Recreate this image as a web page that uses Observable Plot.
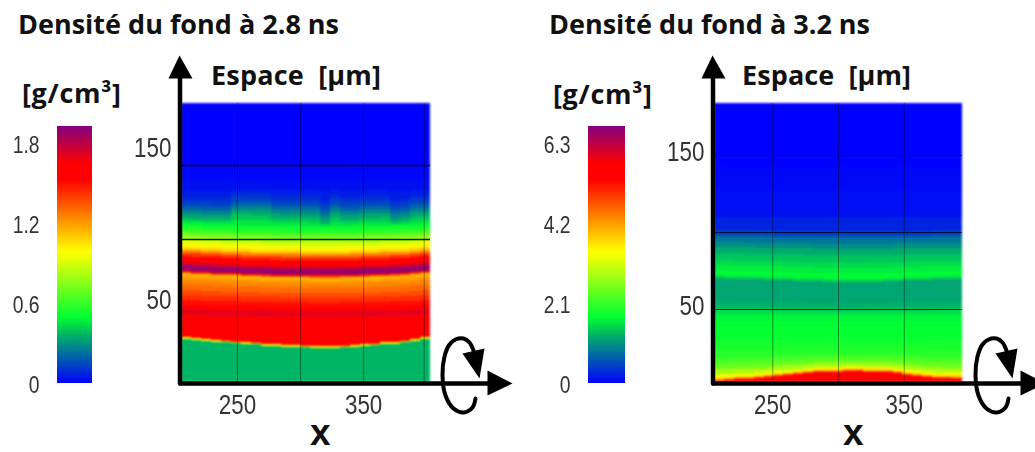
<!DOCTYPE html>
<html><head><meta charset="utf-8">
<script src="https://cdn.jsdelivr.net/npm/d3@7"></script>
<script src="https://cdn.jsdelivr.net/npm/@observablehq/plot@0.6"></script>
<style>
html,body{margin:0;padding:0;background:#fff;width:1035px;height:452px;overflow:hidden}
#page{position:relative;width:1035px;height:452px}
#page>div.t{position:absolute;font-family:"Open Sans",Lato,sans-serif;font-weight:700;color:#111;white-space:pre;line-height:1}
#page svg{position:absolute;top:0;filter:blur(.4px);background:transparent}
</style></head><body><div id="page"></div>
<script>
// colour map, as a fraction of the colour bar's top value
const stopFractions=[0,.18,.26,.51,.79,.85,1];
const stopColors=["#0000ff","#00aa6e","#00ff32","#ffff00","#ff0000","#ff0000","#820082"];

// left panel (2.8 ns): density profile along Espace at the left edge
const leftMax=1.93;
const leftTicks=[0,.6,1.2,1.8];
const leftRowY=[179.5,138.7,128.8,122.2,118.3,115.7,113,110.4,107.8,105.1,102.5,99.9,97.2,94.6,92,89.3,86.7,84.7,82.8,80.8,78.8,76.8,74.9,72.9,70.9,69.6,68.3,67.6,65.5,63,60,56.4,53.2,49.9,46.6,43.9,42.6,40.6,36.7,26.2,25.5,24.5];
const leftRowDensity=[0,.01,.03,.06,.1,.14,.2,.27,.34,.4,.46,.52,.6,.7,.8,.93,1,1.08,1.25,1.42,1.53,1.6,1.72,1.88,1.9,1.72,1.35,1.14,1.2,1.25,1.3,1.37,1.43,1.5,1.58,1.68,1.72,1.6,1.55,1.52,.95,.37];
const leftRowBend=[0,0,0,0,.05,.1,.12,.15,.2,.25,.28,.3,.32,.34,.36,.38,.4,.42,.44,.46,.48,.5,.5,.5,.5,.5,.5,.5,.5,.45,.42,.38,.34,.3,.25,.2,.2,.25,.35,1,1,1];
const leftRowFringe=[0,0,0,.5,1,1,1,1,1,1,.5,0,0,0,0,0,0,0,0,0,0,0,0,0,0,0,0,0,0,0,0,0,0,0,0,0,0,0,0,0,0,0];
const leftColumnBend=[0,.7,1.3,2,2.6,3,3.6,3.9,4.6,4.9,5.3,5.3,5.6,5.9,5.9,5.9,5.6,5.3,4.6,4.3,3.6,3.3,2.6,1.3,0];
const leftColumnFringe=[1.5,1.5,1.5,1.5,1.5,-2,-2,-2,-2,0,0,0,0,0,3,-1,1,1,0,0,0,3,2,0,0];
const leftGridX=[250,300,350,398];
const leftGridY=[138.7,90];

// right panel (3.2 ns)
const rightMax=6.76;
const rightTicks=[0,2.1,4.2,6.3];
const rightRowY=[183.8,142.2,127.3,109.7,101.3,98.1,96.8,93.5,90.3,86.4,81.8,78.6,75.3,72.7,71.4,70.1,66.9,55.8,52,50,48.7,46,42,38.3,29.9,23.4,18.2,14.3,10.4,7.1,5.2,4.2,3.4,2.9];
const rightRowDensity=[0,.05,.1,.25,.43,.7,.85,1.02,1.22,1.38,1.53,1.65,1.73,1.68,1.45,1.18,1.18,1.25,1.33,1.45,1.58,1.7,1.76,1.78,1.9,2,2.2,2.45,2.85,3.3,3.6,4,4.8,5.4];
const rightRowBend=[0,0,0,0,.1,.12,.14,.16,.18,.2,.24,.27,.3,.35,.35,.35,.3,.2,.15,.1,.05,0,0,0,0,-.1,-.3,-.5,-.7,-.85,-.95,-1,-1,-1];
const rightColumnBend=[.6,1,1.6,1.9,2.3,2.9,3.6,4.2,4.9,5.5,6.2,6.5,6.5,6.8,6.8,6.5,6.5,6.2,5.5,4.5,3.9,3.2,2.6,2.3,2];
const rightGridX=[250,300,350];
const rightGridY=[150,100,50];

// decorative axis arrows, offsets in pixels from the plot's lower left corner
const yShaft=[[-1.5,1],[-1.5,-305]];
const xShaft=[[-1,1],[310,1]];
const yHead=[[-2,-327],[-13,-304],[11,-304]];
const xHead=[[306,-12],[331,1],[306,13]];
const spin=[[292,-32],[288,-40],[282,-44],[274,-43],[268,-38],[263,-26],[261,-7],[264,13],[272,26],[282,30],[291,25],[294,16]];
const spinHead=[[281,-29],[303,-34],[298,-4]];

const panelFont='"Liberation Sans",Arimo,sans-serif';
const colorScale=m=>({type:"linear",domain:stopFractions.map(f=>f*m),range:stopColors,interpolate:"rgb"});
const page=document.getElementById("page");

// squeeze the tick labels horizontally, as in the stretched reference picture
function squeeze(svg,ratio){
  svg.querySelectorAll('g[aria-label^="y-axis"] text, g[aria-label^="x-axis"] text').forEach(t=>{
    t.setAttribute("textLength",t.getComputedTextLength()*ratio);
    t.setAttribute("lengthAdjust","spacingAndGlyphs");
  });
}
function heat(o){
  const cols=o.columnBend.length, w=(o.xDomain[1]-o.xDomain[0])/cols;
  const fr=o.columnFringe||o.columnBend.map(()=>0), rf=o.rowFringe||o.rowY.map(()=>0);
  const yAt=(i,j)=>i>=o.rowY.length?o.yDomain[0]:o.rowY[i]-o.columnBend[j]*o.rowBend[i]-fr[j]*rf[i];
  const cells=[];
  for(let j=0;j<cols;j++)for(let i=0;i<o.rowY.length;i++)
    cells.push({x1:o.xDomain[0]+j*w,x2:o.xDomain[0]+(j+1)*w,y1:yAt(i+1,j),y2:yAt(i,j),density:o.rowDensity[i]});
  const fx=d3.scaleLinear([0,o.frame[0]],o.xDomain), fy=d3.scaleLinear([0,-o.frame[1]],o.yDomain);
  const P=a=>a.map(([x,y])=>({x:fx(x),y:fy(y)}));
  const line=(a,opt)=>Plot.line(P(a),{x:"x",y:"y",...opt});
  const svg=Plot.plot({
    width:o.width,height:452,marginLeft:181,marginRight:o.width-181-o.frame[0],marginTop:103,marginBottom:70,
    x:{domain:o.xDomain,axis:null},y:{domain:o.yDomain,axis:null},color:colorScale(o.max),
    style:{background:"transparent"},
    marks:[
      Plot.rect(cells,{x1:"x1",x2:"x2",y1:"y1",y2:"y2",fill:"density",shapeRendering:"crispEdges"}),
      Plot.ruleX(o.gridX,{y1:o.yDomain[0],y2:o.yDomain[1],stroke:"#000",strokeOpacity:.4,strokeWidth:1}),
      Plot.ruleY(o.gridY,{x1:o.xDomain[0],x2:o.xDomain[1],stroke:"#000",strokeOpacity:o.gridYOpacity,strokeWidth:o.gridYWidth}),
      Plot.axisX({ticks:[250,350],tickSize:0,tickPadding:12,fontSize:28,fill:"#333",fontFamily:panelFont,label:null,tickFormat:d=>String(d),anchor:"bottom"}),
      Plot.axisY({ticks:[50,150],tickSize:0,tickPadding:10,fontSize:28,fill:"#333",fontFamily:panelFont,label:null,tickFormat:d=>String(d),anchor:"left",dy:o.labelDy||0}),
      line(yShaft,{stroke:"#000",strokeWidth:4.5}),
      line(xShaft,{stroke:"#000",strokeWidth:4.5}),
      line(yHead,{stroke:"none",fill:"#000"}),
      line(xHead,{stroke:"none",fill:"#000"}),
      line(spin,{stroke:"#000",strokeWidth:4,fill:"none",curve:"catmull-rom"}),
      line(spinHead,{stroke:"none",fill:"#000"})
    ]});
  svg.style.left=o.left+"px";
  page.appendChild(svg);
  squeeze(svg,.8);
  const cellsG=svg.querySelector('g[aria-label="rect"]');
  if(cellsG)cellsG.style.filter="blur(.8px)";
}
function bar(o){
  const n=128, step=o.max/n, steps=d3.range(n).map(i=>({y1:i*step,y2:(i+1)*step,v:(i+.5)*step}));
  const svg=Plot.plot({
    width:o.barRight,height:452,marginLeft:o.barLeft,marginRight:0,marginTop:126,marginBottom:69,
    y:{domain:[0,o.max],axis:null},color:colorScale(o.max),style:{background:"transparent"},
    marks:[
      Plot.rect(steps,{y1:"y1",y2:"y2",fill:"v",shapeRendering:"crispEdges"}),
      Plot.axisY(o.ticks,{tickSize:0,tickPadding:18,fontSize:23,fill:"#333",fontFamily:panelFont,label:null,tickFormat:d=>String(d),anchor:"left",dy:2})
    ]});
  svg.style.left=o.left+"px";
  page.appendChild(svg);
  squeeze(svg,.84);
}
function label(text,left,top,size,target,extra){
  const d=document.createElement("div");d.className="t";d.textContent=text;
  d.style.left=left+"px";d.style.top=top+"px";d.style.fontSize=size+"px";
  if(extra)Object.assign(d.style,extra);
  page.appendChild(d);
  if(target){
    const gap=(target-d.getBoundingClientRect().width)/(text.length-1);
    d.style.letterSpacing=gap+"px";
  }
}

bar({left:0,barLeft:57,barRight:92,max:leftMax,ticks:leftTicks});
bar({left:531,barLeft:57,barRight:94,max:rightMax,ticks:rightTicks});
heat({left:0,width:520,frame:[249,279],xDomain:[205.6,403],yDomain:[-4.1,179.5],max:leftMax,
  rowY:leftRowY,rowDensity:leftRowDensity,rowBend:leftRowBend,rowFringe:leftRowFringe,
  columnBend:leftColumnBend,columnFringe:leftColumnFringe,gridX:leftGridX,gridY:leftGridY,gridYOpacity:.9,gridYWidth:1.5});
heat({left:533,width:502,frame:[248,279],xDomain:[205.7,394.3],yDomain:[2.6,183.8],max:rightMax,
  rowY:rightRowY,rowDensity:rightRowDensity,rowBend:rightRowBend,
  columnBend:rightColumnBend,gridX:rightGridX,gridY:rightGridY,gridYOpacity:.75,gridYWidth:1,labelDy:-3.5});

label("Densité du fond à 2.8 ns",18,10,27,321);
label("Densité du fond à 3.2 ns",549,10,27,321);
label("Espace  [µm]",211,61,27,170);
label("Espace  [µm]",742,61,27,169);
label("[g/cm³]",22,79,27,99);
label("[g/cm³]",553,80,27,99);
label("x",310,414,37,null,{fontFamily:'"Liberation Sans",sans-serif'});
label("x",843,414,37,null,{fontFamily:'"Liberation Sans",sans-serif'});
</script></body></html>
